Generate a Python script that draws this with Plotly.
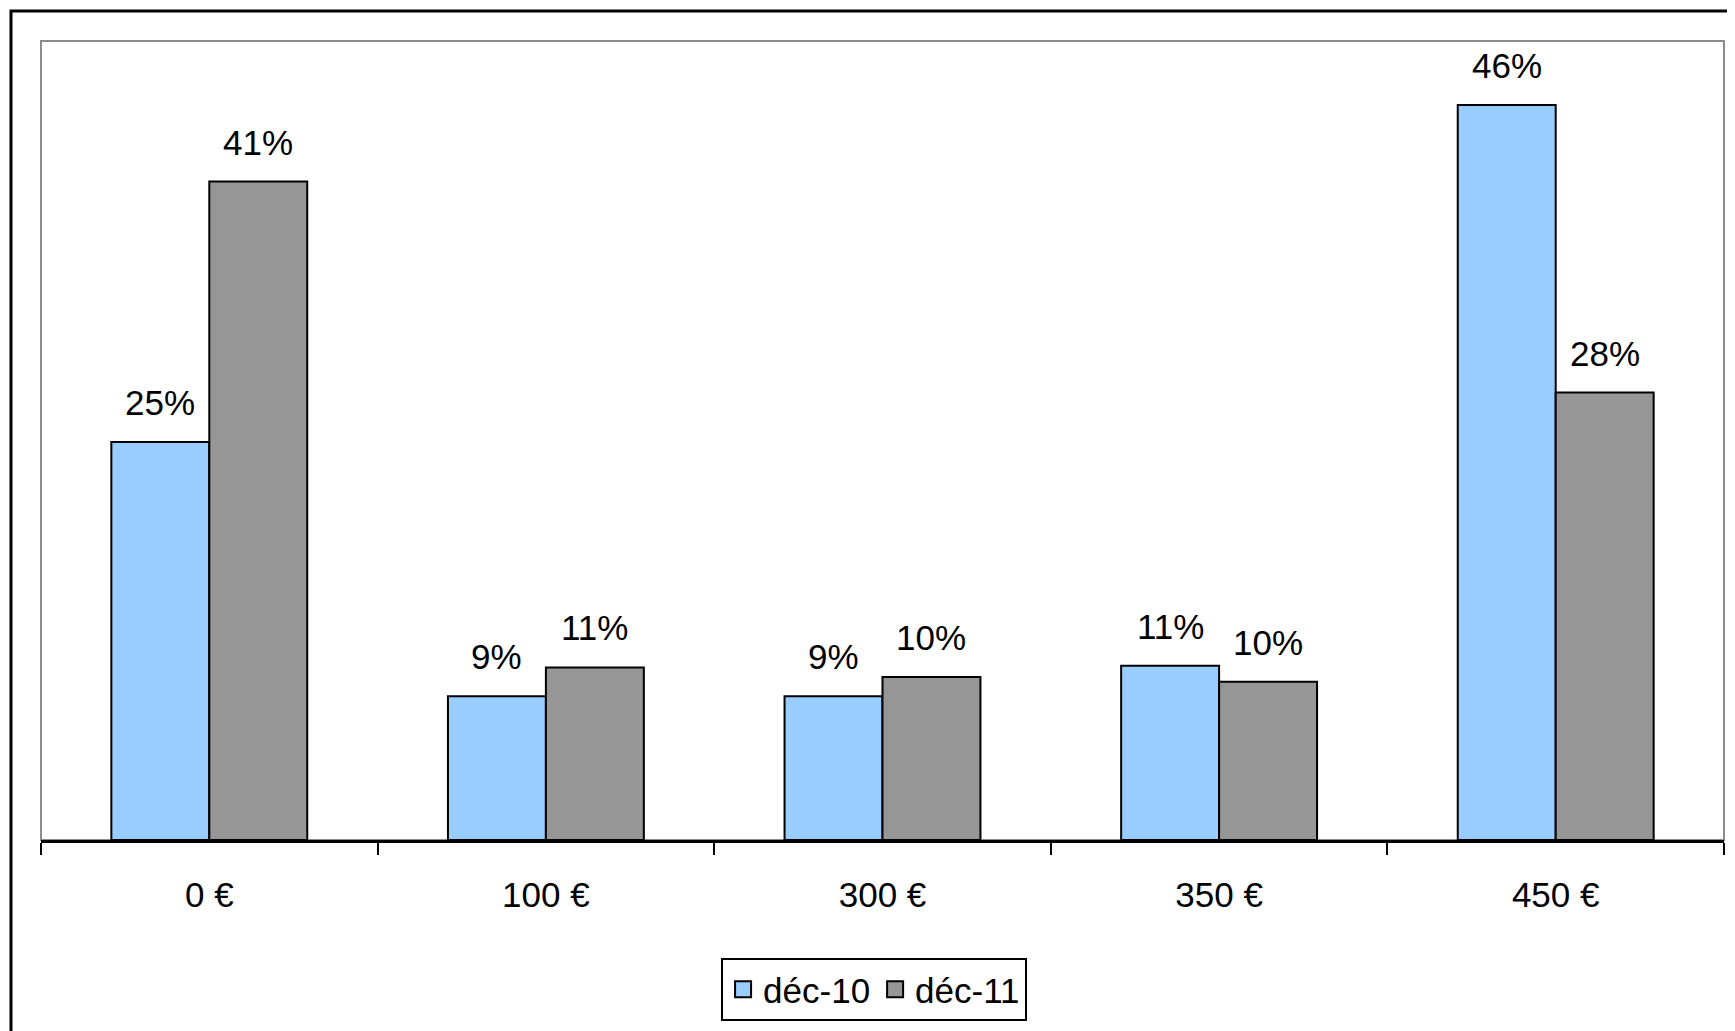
import plotly.graph_objects as go

categories = ["0 €", "100 €", "300 €", "350 €", "450 €"]
dec10 = [0.249, 0.090, 0.090, 0.109, 0.460]
dec11 = [0.412, 0.108, 0.102, 0.099, 0.280]
series_names = ["déc-10", "déc-11"]
colors = ["#99CCFF", "#969696"]

W, H = 1735, 1031
BODY = 8  # default page margin of the html body
ML, MR, MT, MB = 41 - BODY, 11 + BODY, 41 - BODY, 191 + BODY
BARGAP = 0.418
FONT = "Arial, Liberation Sans, sans-serif"
FS = 35

fig = go.Figure()
for name, vals, col in zip(series_names, [dec10, dec11], colors):
    fig.add_trace(go.Bar(
        x=categories, y=vals, name=name, showlegend=False,
        marker=dict(color=col, line=dict(color="black", width=2)),
    ))
# legend entries with larger square swatches
for name, col in zip(series_names, colors):
    fig.add_trace(go.Scatter(
        x=[None], y=[None], mode="markers", name=name,
        marker=dict(symbol="square", size=16, color=col,
                    line=dict(color="black", width=2)),
    ))

plot_w = W - ML - MR
plot_h = H - MT - MB
bar_px = plot_w / len(categories) * (1 - BARGAP) / 2
for k, vals in enumerate([dec10, dec11]):
    shift = (k - 0.5) * bar_px
    for c, v in zip(categories, vals):
        fig.add_annotation(
            x=c, y=v, text=f"{round(v*100):d}%", showarrow=False,
            xshift=shift, yshift=18, yanchor="bottom",
            font=dict(family=FONT, size=FS, color="black"),
        )

# grey plot-area frame
fig.add_shape(type="rect", xref="paper", yref="paper", x0=0, x1=1, y0=0, y1=1,
              line=dict(color="#8c8c8c", width=2), layer="below")
# outer chart border (left and top visible)
fig.add_shape(type="rect", xref="paper", yref="paper",
              x0=-30 / plot_w, x1=1.2, y0=-0.6, y1=1 + 30 / plot_h,
              line=dict(color="black", width=3), layer="below")

fig.update_layout(
    width=W, height=H,
    margin=dict(l=ML, r=MR, t=MT, b=MB),
    paper_bgcolor="white", plot_bgcolor="white",
    barmode="group", bargap=BARGAP, bargroupgap=0,
    font=dict(family=FONT, size=FS, color="black"),
    showlegend=True,
    legend=dict(orientation="h", x=0.495, xanchor="center", y=-118 / plot_h, yanchor="top",
                bordercolor="black", borderwidth=2, bgcolor="white",
                font=dict(family=FONT, size=FS, color="black"),
                itemwidth=30, traceorder="normal"),
)
fig.update_xaxes(
    type="category", showline=True, linecolor="black", linewidth=2.5,
    ticks="outside", tickson="boundaries", ticklen=12, tickwidth=2, tickcolor="black",
    ticklabelstandoff=22,
    showgrid=False, tickfont=dict(family=FONT, size=FS, color="black"),
    range=[-0.5, 4.5],
)
fig.update_yaxes(range=[0, 0.5], showticklabels=False, showgrid=False,
                 zeroline=False, showline=False, ticks="")

fig.write_html("out.html")
